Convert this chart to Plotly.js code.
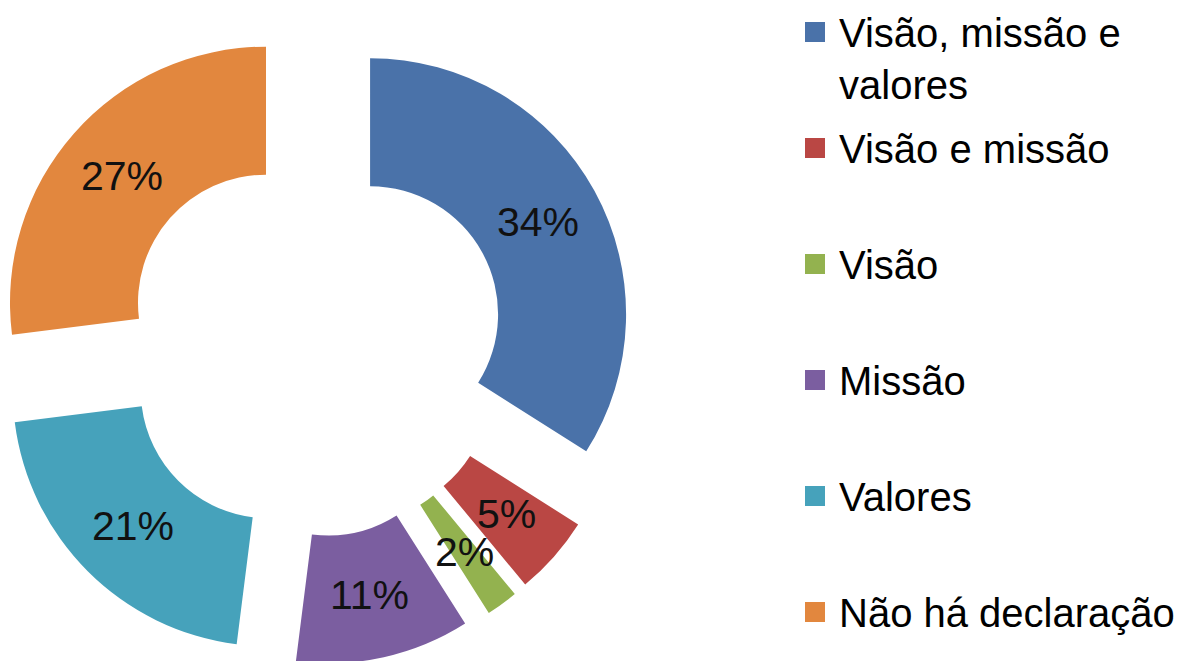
<!DOCTYPE html>
<html>
<head>
<meta charset="utf-8">
<script src="https://cdn.plot.ly/plotly-3.0.1.min.js"></script>
<style>
html,body{margin:0;padding:0;overflow:hidden;background:#ffffff;width:1201px;height:661px;}
#chart{position:absolute;left:-20px;top:0;width:1221px;height:680px;}
</style>
</head>
<body>
<div id="chart"></div>
<script>
// ---- data ----
const categories = ["Visão, missão e valores", "Visão e missão", "Visão", "Missão", "Valores", "Não há declaração"];
const legendLabels = ["Visão, missão e<br>valores", "Visão e missão", "Visão", "Missão", "Valores", "Não há declaração"];
const shares = [34, 5, 2, 11, 21, 27];
const percentLabels = ["34%", "5%", "2%", "11%", "21%", "27%"];
const colors = ["#4A72A9", "#BA4744", "#93B24F", "#7B5EA0", "#46A2BB", "#E2873E"];

// ---- layout geometry ----
const W = 1221, H = 680, SHIFT = 20, MT = 25, MB = 15;
const PH = H - MT - MB;
const PULL = 0.25, HOLE = 0.5;
const CX = 314, CY = 345, HALF = 320;           // pie box centre (page px) and half size
const FONT = "Liberation Sans, Arial, sans-serif";
const LABEL_SIZE = 41, LEG_SIZE = 40;

const toPX = px => (px + SHIFT) / W;
const toPY = py => 1 - (py - MT) / PH;

const trace = {
  type: "pie",
  labels: categories,
  values: shares,
  sort: false,
  direction: "clockwise",
  rotation: 0,
  hole: HOLE,
  pull: PULL,
  textinfo: "none",
  hoverinfo: "label+percent",
  marker: { colors: colors, line: { width: 0 } },
  domain: { x: [toPX(CX - HALF), toPX(CX + HALF)], y: [0, 1] },
  showlegend: false
};

// percent labels at middle of each pulled ring segment (from data)
const R = HALF / (1 + PULL);
const dist = PULL * R + R * (1 + HOLE) / 2;
const total = shares.reduce((a, b) => a + b, 0);
const annotations = [];
const shapes = [];
let cum = 0;
shares.forEach((v, i) => {
  const th = (cum + v / 2) / total * 2 * Math.PI;
  cum += v;
  const px = CX + dist * Math.sin(th);
  const py = CY - dist * Math.cos(th);
  annotations.push({
    x: toPX(px), y: toPY(py - 0.35 * LABEL_SIZE + 0.35 * LABEL_SIZE), xref: "paper", yref: "paper",
    text: percentLabels[i], showarrow: false, xanchor: "center", yanchor: "middle",
    font: { family: FONT, size: LABEL_SIZE, color: "#111111" }
  });
});

// legend (right side)
const LEG_TEXT_X = 837, LEG_BOX_X = 805, BOX = 20, LEG_Y0 = 47, LEG_STEP = 116;
legendLabels.forEach((lab, i) => {
  const base = LEG_Y0 + LEG_STEP * i;
  const lines = lab.split("<br>").length;
  const cy = base - 0.35 * LEG_SIZE + (lines - 1) * 0.65 * LEG_SIZE;
  annotations.push({
    x: toPX(LEG_TEXT_X), y: toPY(cy), xref: "paper", yref: "paper",
    text: lab, showarrow: false, xanchor: "left", yanchor: "middle", align: "left",
    font: { family: FONT, size: LEG_SIZE, color: "#000000" }
  });
  const sc = base - 15;
  shapes.push({
    type: "rect", xref: "paper", yref: "paper",
    x0: toPX(LEG_BOX_X), x1: toPX(LEG_BOX_X + BOX),
    y0: toPY(sc - BOX / 2), y1: toPY(sc + BOX / 2),
    fillcolor: colors[i], line: { width: 0 }
  });
});

const layout = {
  width: W, height: H,
  margin: { l: 0, r: 0, t: MT, b: MB, pad: 0 },
  paper_bgcolor: "#ffffff",
  plot_bgcolor: "#ffffff",
  showlegend: false,
  annotations: annotations,
  shapes: shapes,
  font: { family: FONT }
};

Plotly.newPlot("chart", [trace], layout, { displayModeBar: false, staticPlot: false });
</script>
</body>
</html>
